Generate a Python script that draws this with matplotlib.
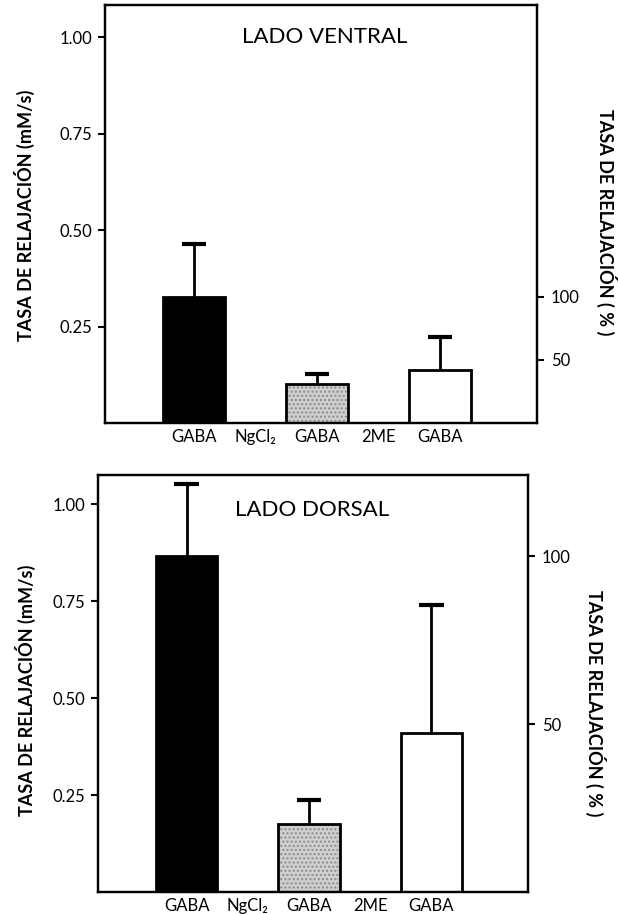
import matplotlib.pyplot as plt
import numpy as np

plt.rcParams['font.family'] = ['Lato', 'DejaVu Sans']

# categories under the x axis, bars sit on positions 0, 2, 4
categories = ['GABA', 'NgCl₂', 'GABA', '2ME', 'GABA']
bar_pos = [0, 2, 4]

# ventral side (mM/s), mean and upper error
ventral_mean = [0.327, 0.100, 0.137]
ventral_err = [0.137, 0.026, 0.085]

# dorsal side (mM/s)
dorsal_mean = [0.866, 0.175, 0.410]
dorsal_err = [0.186, 0.062, 0.330]

left_ticks = [0.25, 0.50, 0.75, 1.00]
pct_ticks = [50, 100]

fig = plt.figure(figsize=(6.19, 9.15), dpi=100)


def panel(rect, means, errs, title, title_xy, ytop, ylab_x, rlab_x, ylab_y, rlab_y):
    ax = fig.add_axes(rect)
    pos = np.array(bar_pos, dtype=float)
    means = np.array(means)
    tops = means + np.array(errs)
    # black, stippled grey, white
    ax.bar(pos[0], means[0], width=1.0, color='black', edgecolor='black', linewidth=2)
    ax.bar(pos[1], means[1], width=1.0, color='#cfcfcf', edgecolor='#8a8a8a',
           hatch='....', linewidth=0)
    ax.bar(pos[1], means[1], width=1.0, color='none', edgecolor='black', linewidth=2)
    ax.bar(pos[2], means[2], width=1.0, color='white', edgecolor='black', linewidth=2)
    # upper error bars only
    ax.vlines(pos, means, tops, color='black', linewidth=2)
    ax.hlines(tops, pos - 0.2, pos + 0.2, color='black', linewidth=3)

    ax.set_xlim(-1.45, 5.58)
    ax.set_ylim(0, ytop)
    ax.set_xticks(range(len(categories)))
    ax.set_xticklabels(categories, fontsize=12)
    ax.tick_params(axis='x', length=0, pad=4)
    ax.set_yticks(left_ticks)
    ax.set_yticklabels(['%.2f' % t for t in left_ticks], fontsize=12)
    ax.tick_params(axis='y', length=5, width=1.5, pad=4)
    for s in ax.spines.values():
        s.set_linewidth(1.6)

    ax.text(title_xy[0], title_xy[1], title, transform=fig.transFigure, ha='center',
            va='center', fontsize=16)

    # right axis in percent: 100 % is the first (GABA) bar
    ax2 = ax.twinx()
    ax2.set_ylim(0, ytop * 100 / means[0])
    ax2.set_yticks(pct_ticks)
    ax2.set_yticklabels([str(t) for t in pct_ticks], fontsize=12)
    ax2.tick_params(axis='y', length=5, width=1.5, pad=5)
    for s in ax2.spines.values():
        s.set_linewidth(1.6)

    fig.text(ylab_x, ylab_y, 'TASA DE RELAJACIÓN (mM/s)', rotation=90, ha='center',
             va='center', fontsize=13, fontweight='bold')
    fig.text(rlab_x, rlab_y, 'TASA DE RELAJACIÓN ( % )', rotation=-90, ha='center',
             va='center', fontsize=13, fontweight='bold')
    return ax


W, H = 619.0, 915.0
panel([105 / W, 1 - 423 / H, 432 / W, 418 / H], ventral_mean, ventral_err,
      'LADO VENTRAL', (325 / W, 1 - 37 / H), 1.083,
      24 / W, 607 / W, 1 - 215 / H, 1 - 222 / H)
panel([98 / W, 1 - 892 / H, 430 / W, 417 / H], dorsal_mean, dorsal_err,
      'LADO DORSAL', (312 / W, 1 - 510 / H), 1.075,
      25 / W, 596 / W, 1 - 690 / H, 1 - 703 / H)

fig.savefig('out.png', dpi=100)
